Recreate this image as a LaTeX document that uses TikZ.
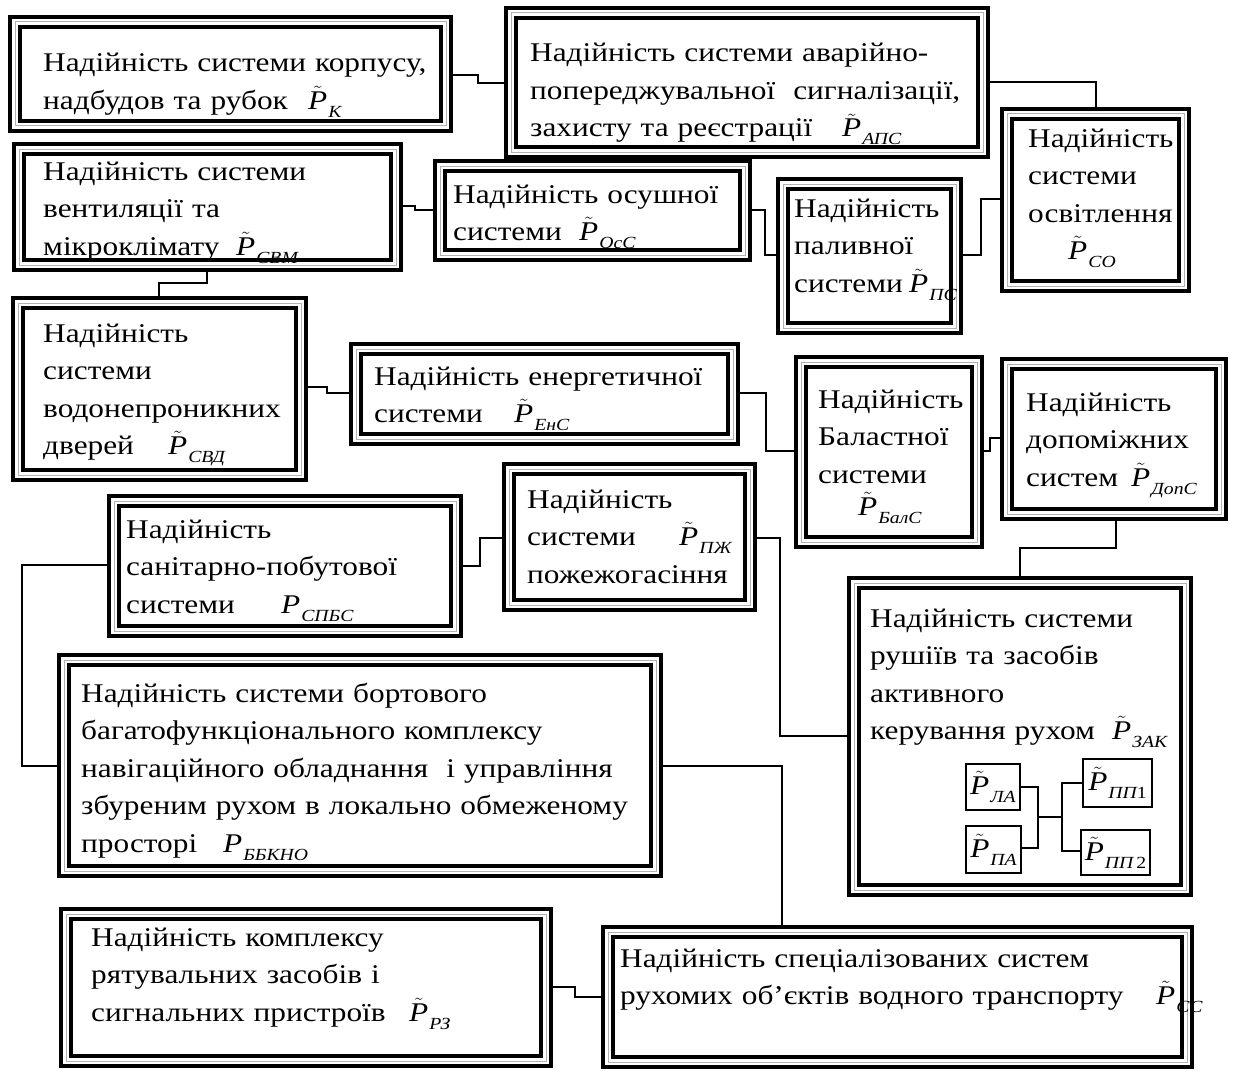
\documentclass[tikz,border=0pt]{standalone}
\usepackage{fontspec}
\setmainfont{Liberation Serif}[FakeStretch=1.16]

% reliability index with and without tilde
\newcommand{\Prel}[1]{$\tilde{\mbox{\itshape P}}$\kern1pt\raisebox{-8pt}{\fontsize{17}{17}\selectfont\itshape #1}}
\newcommand{\Pbare}[1]{\textit{P}\kern1pt\raisebox{-8pt}{\fontsize{17}{17}\selectfont\itshape #1}}
% last line of a box: words, then the index at a fixed offset
\newcommand{\lastline}[3]{\leavevmode\rlap{#1}\hspace*{#2}#3}

\tikzset{
  sysbox/.style={rectangle, anchor=north west, inner sep=0pt, outer sep=7pt,
    preaction={draw=black, line width=14pt},
    preaction={draw=white, line width=6pt},
    draw=gray!60, line width=1pt},
  smallbox/.style={rectangle, anchor=north west, draw, line width=2pt, inner sep=0pt,
    font=\fontsize{27}{30}\selectfont},
  txt/.style={anchor=base west, inner sep=0pt, text width=600pt, align=left,
    font=\fontsize{27}{37.5}\selectfont},
  link/.style={line width=1.8pt},
}

\begin{document}
\begin{tikzpicture}[x=1pt, y=-1pt]
\useasboundingbox (0,0) rectangle (1233,1070);

% frames
\node[sysbox, minimum width=431pt, minimum height=104pt] (K)     at (8,15)    {};
\node[sysbox, minimum width=472pt, minimum height=139pt] (APS)   at (504,6)   {};
\node[sysbox, minimum width=377pt, minimum height=116pt] (SVM)   at (12,142)  {};
\node[sysbox, minimum width=305pt, minimum height=89pt]  (OsS)   at (433,159) {};
\node[sysbox, minimum width=173pt, minimum height=144pt] (PS)    at (776,177) {};
\node[sysbox, minimum width=177pt, minimum height=172pt] (SO)    at (1000,107){};
\node[sysbox, minimum width=283pt, minimum height=172pt] (SVD)   at (11,296)  {};
\node[sysbox, minimum width=377pt, minimum height=90pt]  (EnS)   at (349,342) {};
\node[sysbox, minimum width=176pt, minimum height=180pt] (BalS)  at (794,355) {};
\node[sysbox, minimum width=214pt, minimum height=150pt] (DopS)  at (1000,357){};
\node[sysbox, minimum width=241pt, minimum height=136pt] (PZh)   at (502,462) {};
\node[sysbox, minimum width=342pt, minimum height=130pt] (SPBS)  at (107,494) {};
\node[sysbox, minimum width=332pt, minimum height=307pt] (ZAK)   at (847,576) {};
\node[sysbox, minimum width=592pt, minimum height=211pt] (BBKNO) at (57,653)  {};
\node[sysbox, minimum width=480pt, minimum height=147pt] (RZ)    at (59,907)  {};
\node[sysbox, minimum width=579pt, minimum height=130pt] (SS)    at (601,925) {};

% texts
\node[txt] (Kt) at (43,72) {Надійність системи корпусу,\\
  \lastline{надбудов та рубок}{265pt}{\Prel{К}}};
\node[txt] (APSt) at (530,62) {Надійність системи аварійно-\\
  попереджувальної~~сигналізації,\\
  \lastline{захисту та реєстрації}{312pt}{\Prel{АПС}}};
\node[txt] (SVMt) at (43,180) {Надійність системи\\вентиляції та\\
  \lastline{мікроклімату}{193pt}{\Prel{СВМ}}};
\node[txt] (OsSt) at (453,203) {Надійність осушної\\
  \lastline{системи}{126pt}{\Prel{ОсС}}};
\node[txt] (PSt) at (794,217) {Надійність\\паливної\\
  \lastline{системи}{115pt}{\Prel{ПС}}};
\node[txt] (SOt) at (1028,147) {Надійність\\системи\\освітлення\\
  \lastline{}{40pt}{\Prel{СО}}};
\node[txt] (SVDt) at (43,342) {Надійність\\системи\\водонепроникних\\
  \lastline{дверей}{125pt}{\Prel{СВД}}};
\node[txt] (EnSt) at (374,385) {Надійність енергетичної\\
  \lastline{системи}{140pt}{\Prel{ЕнС}}};
\node[txt] (BalSt) at (818,408) {Надійність\\Баластної\\системи\\[-5pt]
  \lastline{}{40pt}{\Prel{БалС}}};
\node[txt] (DopSt) at (1026,411) {Надійність\\допоміжних\\
  \lastline{систем}{105pt}{\Prel{ДопС}}};
\node[txt] (PZht) at (527,508) {Надійність\\
  \lastline{системи}{152pt}{\Prel{ПЖ}}\\пожежогасіння};
\node[txt] (SPBSt) at (126,538) {Надійність\\санітарно-побутової\\
  \lastline{системи}{155pt}{\Pbare{СПБС}}};
\node[txt] (ZAKt) at (870,627) {Надійність системи\\рушіїв та засобів\\активного\\
  \lastline{керування рухом}{242pt}{\Prel{ЗАК}}};
\node[txt] (BBKNOt) at (81,702) {Надійність системи бортового\\
  багатофункціонального комплексу\\
  навігаційного обладнання~~і управління\\
  збуреним рухом в локально обмеженому\\
  \lastline{просторі}{142pt}{\Pbare{ББКНО}}};
\node[txt] (RZt) at (91,946) {Надійність комплексу\\рятувальних засобів і\\
  \lastline{сигнальних пристроїв}{318pt}{\Prel{РЗ}}};
\node[txt] (SSt) at (620,967) {Надійність спеціалізованих систем\\
  \lastline{рухомих об’єктів водного транспорту}{536pt}{\Prel{СС}}};

% propulsion subunits
\node[smallbox, minimum width=54pt, minimum height=46pt] (LA)  at (965,763)  {\Prel{ЛА}};
\node[smallbox, minimum width=55pt, minimum height=47pt] (PA)  at (965,825)  {\Prel{ПА}};
\node[smallbox, minimum width=69pt, minimum height=48pt] (PP1) at (1082,758) {\Prel{ПП\upshape 1}};
\node[smallbox, minimum width=69pt, minimum height=45pt] (PP2) at (1080,829) {\Prel{ПП\,\upshape 2}};

% connectors
\draw[link] (K.east |- 0,75) -| (478,83) -- (APS.west |- 0,83);
\draw[link] (APS.east |- 0,82) -| (SO.north -| 1096,0);
\draw[link] (SVM.east |- 0,206) -| (415,210) -- (OsS.west |- 0,210);
\draw[link] (OsS.east |- 0,210) -| (765,255) -- (PS.west |- 0,255);
\draw[link] (PS.east |- 0,255) -| (981,199) -- (SO.west |- 0,199);
\draw[link] (SVM.south -| 207,0) |- (159,283) -- (SVD.north -| 159,0);
\draw[link] (SVD.east |- 0,387) -| (327,393) -- (EnS.west |- 0,393);
\draw[link] (SPBS.east |- 0,566) -| (480,538) -- (PZh.west |- 0,538);
\draw[link] (SPBS.west |- 0,565) -| (22,766) -- (BBKNO.west |- 0,766);
\draw[link] (EnS.east |- 0,393) -| (766,451) -- (BalS.west |- 0,451);
\draw[link] (BalS.east |- 0,451) -| (990,438) -- (DopS.west |- 0,438);
\draw[link] (DopS.south -| 1116,0) |- (1020,548) -- (ZAK.north -| 1020,0);
\draw[link] (PZh.east |- 0,538) -| (780,736) -- (ZAK.west |- 0,736);
\draw[link] (BBKNO.east |- 0,766) -| (SS.north -| 782,0);
\draw[link] (RZ.east |- 0,987) -| (575,997) -- (SS.west |- 0,997);

\coordinate (J) at (1038,817);
\draw[line width=1.5pt] (LA.east |- 0,787) -| (J) |- (PA.east |- 0,848);
\draw[line width=1.5pt] (J) -- (1062,817);
\draw[line width=1.5pt] (PP1.west |- 0,783) -| (1062,817) |- (PP2.west |- 0,851);
\end{tikzpicture}
\end{document}
